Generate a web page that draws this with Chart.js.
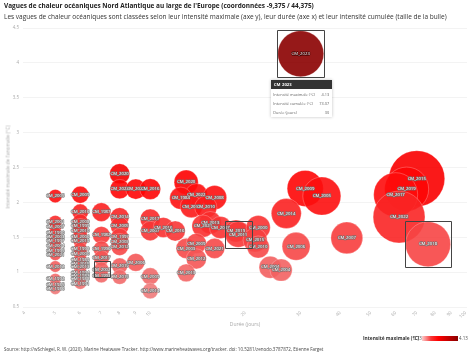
<!DOCTYPE html>
<html><head><meta charset="utf-8">
<script src="https://cdn.jsdelivr.net/npm/chart.js@4"></script>
<style>
html,body{margin:0;padding:0;background:#fff;width:474px;height:355px;overflow:hidden;font-family:"Open Sans",sans-serif;}
#wrap{position:absolute;left:0;top:0;width:474px;height:355px;}
.t{position:absolute;white-space:nowrap;line-height:1;}
#tip{position:absolute;width:61px;background:#fff;box-shadow:0 0 3px rgba(0,0,0,0.25);font-size:3.9px;color:#666;}
#tip .h{background:#333;color:#fff;font-weight:700;padding:2px 3px;height:5px;font-size:4.2px;}
#tip .r{display:flex;justify-content:space-between;padding:2.3px 2.5px 2px 2.5px;}
</style></head><body>
<div id="wrap"><canvas id="c" width="474" height="355"></canvas></div>
<div class="t" style="left:4px;top:3px;font-size:6.45px;font-weight:700;color:#222">Vagues de chaleur océaniques Nord Atlantique au large de l'Europe (coordonnées -9,375 / 44,375)</div>
<div class="t" style="left:4px;top:14px;font-size:6.5px;color:#333">Les vagues de chaleur océaniques sont classées selon leur intensité maximale (axe y), leur durée (axe x) et leur intensité cumulée (taille de la bulle)</div>
<div class="t" style="left:212px;top:322px;width:66px;text-align:center;font-size:5px;color:#aaa">Durée (jours)</div>
<div class="t" style="left:8px;top:167px;font-size:4.8px;color:#aaa;transform:translate(-50%,-50%) rotate(-90deg);">Intensité maximale de l'anomalie (°C)</div>
<div class="t" style="left:363px;top:336px;font-size:4.8px;font-weight:700;color:#333">Intensité maximale (°C)</div>
<div class="t" style="left:413px;top:336px;font-size:4.5px;color:#555">0.73</div>
<div id="cbar" style="position:absolute;left:422px;top:336px;width:36px;height:5px;"></div>
<div class="t" style="left:459px;top:336px;font-size:4.5px;color:#555">4.13</div>
<div class="t" style="left:4px;top:347px;font-size:4.5px;color:#444">Source: http://wSchlegel, R. W. (2020). Marine Heatwave Tracker. http://www.marineheatwaves.org/tracker. doi: 10.5281/zenodo.3787872, Etienne Farget</div>
<div id="tip"><div class="h">CM_2023</div>
<div class="r" style="padding-top:3px"><span>Intensité maximale (°C)</span><span>4.13</span></div>
<div class="r"><span>Intensité cumulée (°C)</span><span>73.07</span></div>
<div class="r"><span>Durée (jours)</span><span>30</span></div></div>
<script>
const labels = [
 'CM_2005','CM_2001','CM_2007','CM_1990','CM_2003','CM_1997','CM_2004','CM_1995','CM_2021','CM_2012','CM_1992','CM_1985','CM_1986',
 'CM_2009','CM_2016','CM_2008','CM_1999','CM_2010','CM_2006','CM_2019','CM_1998','CM_2000','CM_1989','CM_2015','CM_2013','CM_1994','CM_1983','CM_1988','CM_1991',
 'CM_1987','CM_1982','CM_1996','CM_2017','CM_2002','CM_1993',
 'CM_2020','CM_2022','CM_2014','CM_2005','CM_1997','CM_2003','CM_2012','CM_2019','CM_2015',
 'CM_2022','CM_2006',
 'CM_2016','CM_2017','CM_2007','CM_2009','CM_2014',
 'CM_2020','CM_2022','CM_2008','CM_1984','CM_2017','CM_2010','CM_2016','CM_2016','CM_2013','CM_2021','CM_2007','CM_2019','CM_2011','CM_2000','CM_2015','CM_2010','CM_2003','CM_2009','CM_2021','CM_2012','CM_2013','CM_2004','CM_2004',
 'CM_2023','CM_2009','CM_2005','CM_2014','CM_2006','CM_2007','CM_2015','CM_2019','CM_2017','CM_2022','CM_2018'
];
const durations = [
 5,5,5,5,5,5,5,5,5,5,5,5,5,
 6,6,6,6,6,6,6,6,6,6,6,6,6,6,6,6,
 7,7,7,7,7,7,
 8,8,8,8,8,8,8,8,8,
 9,9,
 10,10,10,10,10,
 13,14,16,12.5,13.5,15,11,12,15.5,14.7,16.7,18.7,19,22,21.5,22,13,14,16,14,13,24,26,
 30,31,35,27,29,42,70,65,60,61.5,76
];
const maxIntensity = [
 2.09,1.72,1.65,1.56,1.50,1.45,1.38,1.30,1.25,1.08,0.90,0.82,0.76,
 2.11,1.86,1.72,1.66,1.60,1.51,1.45,1.33,1.27,1.17,1.12,1.07,0.99,0.95,0.90,0.84,
 1.86,1.53,1.33,1.20,1.04,0.95,
 2.41,2.19,1.79,1.66,1.50,1.43,1.36,1.09,0.93,
 2.19,1.14,
 2.19,1.76,1.59,0.94,0.73,
 2.29,2.11,2.07,2.06,1.94,1.93,1.64,1.59,1.71,1.66,1.64,1.59,1.54,1.64,1.46,1.36,1.34,1.41,1.34,1.19,0.99,1.07,1.03,
 4.13,2.20,2.09,1.84,1.37,1.49,2.34,2.19,2.11,1.79,1.40
];
const cumIntensity = [
 6.2,5.8,5.6,5.4,5.2,5.0,4.9,4.8,4.7,4.6,4.5,4.4,4.3,
 10.0,9.0,8.4,8.0,7.8,7.4,7.0,6.6,6.4,6.1,5.9,5.8,5.5,5.3,5.2,5.0,
 12.0,10.5,9.0,8.2,7.5,7.0,
 14.0,13.0,12.0,11.5,11.0,10.5,10.0,8.5,7.5,
 14.0,11.0,
 15.0,14.0,13.0,10.0,8.5,
 20,17,20,17,17,17,14,14,17,17,17,17,23,20,20,17,14,14,14,14,11,17,17,
 73.07,45,50,31,27,35,108,67,67,93,70
];
const xTicks = [4,5,6,7,8,9,10,20,30,40,50,60,70,80,90,100];
const yTicks = [0.5,1,1.5,2,2.5,3,3.5,4,4.5];
const colorMin = 0.73, colorMax = 4.13;
const highlighted = ['CM_2023','CM_2018','CM_2011','CM_2002'];

const stops = [[0,[240,122,122]],[0.45,[255,0,0]],[1,[139,0,0]]];
function colorAt(t){
  t = Math.max(0, Math.min(1, t));
  for (let i=1;i<stops.length;i++){
    if (t <= stops[i][0]){
      const a = stops[i-1], b = stops[i];
      const f = (t - a[0])/(b[0]-a[0]);
      return a[1].map((c,k)=>Math.round(c + (b[1][k]-c)*f));
    }
  }
  return stops[stops.length-1][1];
}
function colorFor(v, alpha){
  const c = colorAt((v-colorMin)/(colorMax-colorMin));
  return 'rgba('+c[0]+','+c[1]+','+c[2]+','+alpha+')';
}
document.getElementById('cbar').style.background =
 'linear-gradient(to right, rgb(252,205,205) 0%,' + [0.25,0.45,0.7,1].map(t=>{const c=colorAt(t);return 'rgb('+c.join(',')+') '+(t*100)+'%';}).join(',') + ')';

const pts = durations.map((d,i)=>({x:d, y:maxIntensity[i]}));
const sizeK = 2.69;

const labelPlugin = {
  id:'labels',
  afterDatasetsDraw(chart){
    const ctx = chart.ctx;
    const meta = chart.getDatasetMeta(0);
    ctx.save();
    ctx.font = '4.3px "Open Sans"';
    ctx.textAlign = 'center';
    ctx.textBaseline = 'middle';
    ctx.lineJoin = 'round';
    meta.data.forEach((el,i)=>{
      const dark = maxIntensity[i] > 3;
      ctx.lineWidth = 1.3;
      ctx.strokeStyle = dark ? 'rgba(60,0,0,0.9)' : 'rgba(110,110,110,0.85)';
      ctx.strokeText(labels[i], el.x, el.y);
      ctx.fillStyle = '#fff';
      ctx.fillText(labels[i], el.x, el.y);
    });
    ctx.strokeStyle = '#444';
    ctx.lineWidth = 1;
    meta.data.forEach((el,i)=>{
      if (highlighted.includes(labels[i])){
        const r = el.options.radius + 0.5;
        ctx.strokeRect(Math.round(el.x - r)+0.5, Math.round(el.y - r)+0.5, Math.round(2*r), Math.round(2*r));
      }
    });
    ctx.restore();
    const idx = labels.indexOf('CM_2023');
    const el = meta.data[idx];
    const tip = document.getElementById('tip');
    tip.style.left = (el.x - 30) + 'px';
    tip.style.top = (el.y + el.options.radius + 3) + 'px';
  }
};

new Chart(document.getElementById('c'), {
  type:'bubble',
  data:{datasets:[{
    data: pts,
    backgroundColor: c => colorFor(maxIntensity[c.dataIndex], 0.9),
    borderColor: 'rgba(255,255,255,0.5)',
    borderWidth: 0.5,
    radius: c => sizeK*Math.sqrt(cumIntensity[c.dataIndex]),
    hoverRadius: 0
  }]},
  options:{
    responsive:false, animation:false, events:[],
    layout:{autoPadding:false, padding:{left:0, top:28, right:7, bottom:28}},
    plugins:{legend:{display:false}, tooltip:{enabled:false}},
    scales:{
      x:{type:'logarithmic', min:3.95, max:101,
        afterBuildTicks: s => { s.ticks = xTicks.map(v=>({value:v})); },
        afterFit: s => { s.height = 20; s.paddingLeft = 0; s.paddingRight = 0; },
        grid:{display:false, drawTicks:false}, border:{display:false},
        ticks:{font:{size:4.5, family:'"Open Sans"'}, color:'#aaa', maxRotation:45, minRotation:45, autoSkip:false, padding:3, callback: v => String(v)}
      },
      y:{min:0.5, max:4.5,
        afterBuildTicks: s => { s.ticks = yTicks.map(v=>({value:v})); },
        afterFit: s => { s.width = 23; s.paddingTop = 0; s.paddingBottom = 0; },
        grid:{color:'#eeeeee', drawTicks:false, lineWidth:0.7}, border:{display:false},
        ticks:{font:{size:4.5, family:'"Open Sans"'}, color:'#aaa', padding:4, callback: v => String(v)}
      }
    }
  },
  plugins:[labelPlugin]
});
</script>
</body></html>
